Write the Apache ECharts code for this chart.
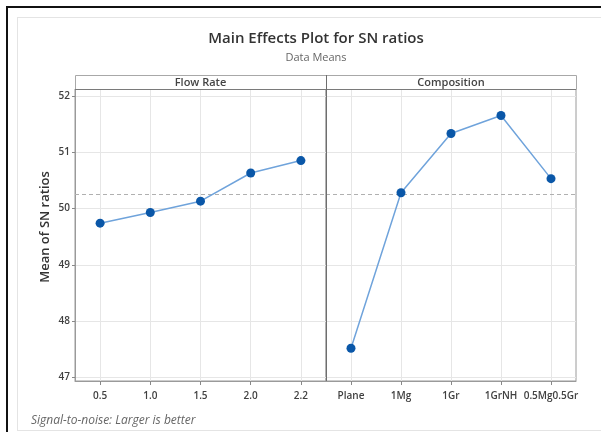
<!DOCTYPE html>
<html>
<head>
<meta charset="utf-8">
<script src="https://cdn.jsdelivr.net/npm/echarts@6/dist/echarts.min.js"></script>
<style>
  html, body { margin: 0; padding: 0; background: #fff; }
  #chart { width: 601px; height: 432px; }
</style>
</head>
<body>
<div id="chart"></div>
<script>
// Main effects of each factor on the mean SN ratio
const flowRates = ['0.5', '1.0', '1.5', '2.0', '2.2'];
const flowMeans = [49.74, 49.93, 50.13, 50.63, 50.85];
const compositions = ['Plane', '1Mg', '1Gr', '1GrNH', '0.5Mg0.5Gr'];
const compMeans = [47.52, 50.28, 51.33, 51.65, 50.53];
const grandMean = 50.26;
const yTicks = [47, 48, 49, 50, 51, 52];
const panelTitles = ['Flow Rate', 'Composition'];

const FONT = '"Open Sans", "Noto Sans", sans-serif';
const gridColor = '#e6e6e6';
const frameColor = '#9a9a9a';
const lineColor = '#6fa3db';
const dotColor = '#0a57a8';

const yMin = 46.94, yMax = 52.12;
const plotTop = 89, plotBottom = 51;
const leftX = 75, midX = 326, rightX = 576;

function xAxisFor(idx, cats) {
  return {
    type: 'category', gridIndex: idx, data: cats, boundaryGap: true,
    axisLine: { show: true, lineStyle: { color: frameColor, width: 1 } },
    axisTick: { show: true, alignWithLabel: true, length: 4, lineStyle: { color: '#888' } },
    axisLabel: {
      interval: 0, hideOverlap: false, color: '#404040',
      fontFamily: FONT, fontSize: 10, fontWeight: 600, margin: 10
    },
    splitLine: { show: true, alignWithLabel: true, lineStyle: { color: gridColor, width: 1 } }
  };
}

function yAxisFor(idx, showLabels) {
  return {
    type: 'value', gridIndex: idx, min: yMin, max: yMax,
    axisLine: { show: showLabels, lineStyle: { color: frameColor } },
    axisTick: { show: showLabels, length: 3, customValues: yTicks, lineStyle: { color: '#888' } },
    axisLabel: {
      show: showLabels, customValues: yTicks, color: '#404040',
      fontFamily: FONT, fontSize: 10, fontWeight: 600, margin: 5
    },
    splitLine: { show: true, lineStyle: { color: gridColor, width: 1 } }
  };
}

function seriesFor(idx, values) {
  return {
    type: 'line', xAxisIndex: idx, yAxisIndex: idx, data: values,
    symbol: 'circle', symbolSize: 9, silent: true,
    lineStyle: { color: lineColor, width: 1.5 },
    itemStyle: { color: dotColor },
    markLine: {
      silent: true, symbol: 'none', label: { show: false },
      lineStyle: { color: '#b0b0b0', type: [4, 3], width: 1 },
      data: [{ yAxis: grandMean }]
    },
    z: 5
  };
}

const stripTop = 75, stripBottom = 89;

const chart = echarts.init(document.getElementById('chart'), null, { renderer: 'canvas' });
chart.setOption({
  backgroundColor: '#fff',
  animation: false,
  title: [
    {
      text: 'Main Effects Plot for SN ratios', left: 311, top: 26, textAlign: 'center',
      textStyle: { fontFamily: FONT, fontSize: 15, fontWeight: 600, color: '#333' }
    },
    {
      text: 'Data Means', left: 311, top: 47, textAlign: 'center',
      textStyle: { fontFamily: FONT, fontSize: 11, fontWeight: 400, color: '#666' }
    }
  ],
  grid: [
    { left: leftX, right: 601 - midX, top: plotTop, bottom: plotBottom, show: true, borderColor: frameColor, borderWidth: 1 },
    { left: midX, right: 601 - rightX, top: plotTop, bottom: plotBottom, show: true, borderColor: frameColor, borderWidth: 1 }
  ],
  xAxis: [xAxisFor(0, flowRates), xAxisFor(1, compositions)],
  yAxis: [yAxisFor(0, true), yAxisFor(1, false)],
  series: [seriesFor(0, flowMeans), seriesFor(1, compMeans)],
  graphic: [
    // outer page frame
    { type: 'line', shape: { x1: 7, y1: 7, x2: 601, y2: 7 }, style: { stroke: '#111', lineWidth: 2 }, z: 100 },
    { type: 'line', shape: { x1: 7, y1: 6, x2: 7, y2: 432 }, style: { stroke: '#111', lineWidth: 2 }, z: 100 },
    { type: 'line', shape: { x1: 17, y1: 17.5, x2: 601, y2: 17.5 }, style: { stroke: '#e4e4e4', lineWidth: 1 }, z: 100 },
    { type: 'line', shape: { x1: 17.5, y1: 17, x2: 17.5, y2: 430 }, style: { stroke: '#e4e4e4', lineWidth: 1 }, z: 100 },
    { type: 'line', shape: { x1: 17, y1: 430.5, x2: 601, y2: 430.5 }, style: { stroke: '#e4e4e4', lineWidth: 1 }, z: 100 },
    // panel strip headers
    { type: 'rect', shape: { x: leftX + 0.5, y: stripTop + 0.5, width: midX - leftX, height: stripBottom - stripTop },
      style: { fill: '#fff', stroke: '#a8a8a8', lineWidth: 1 }, z: 100 },
    { type: 'rect', shape: { x: midX + 0.5, y: stripTop + 0.5, width: rightX - midX, height: stripBottom - stripTop },
      style: { fill: '#fff', stroke: '#a8a8a8', lineWidth: 1 }, z: 100 },
    { type: 'line', shape: { x1: leftX, y1: stripBottom + 0.5, x2: rightX, y2: stripBottom + 0.5 },
      style: { stroke: '#7a7a7a', lineWidth: 1 }, z: 101 },
    { type: 'text', x: (leftX + midX) / 2, y: (stripTop + stripBottom) / 2 + 1, z: 102,
      style: { text: panelTitles[0], fontFamily: FONT, fontSize: 11, fontWeight: 600, fill: '#444', align: 'center', verticalAlign: 'middle' } },
    { type: 'text', x: (midX + rightX) / 2, y: (stripTop + stripBottom) / 2 + 1, z: 102,
      style: { text: panelTitles[1], fontFamily: FONT, fontSize: 11, fontWeight: 600, fill: '#444', align: 'center', verticalAlign: 'middle' } },
    // panel divider
    { type: 'line', shape: { x1: midX + 0.5, y1: stripTop, x2: midX + 0.5, y2: 432 - plotBottom },
      style: { stroke: '#6e6e6e', lineWidth: 1 }, z: 101 },
    // y-axis title
    { type: 'text', x: 45, y: 227, rotation: Math.PI / 2, z: 102,
      style: { text: 'Mean of SN ratios', fontFamily: FONT, fontSize: 13, fontWeight: 600, fill: '#333', align: 'center', verticalAlign: 'middle' } },
    // footnote
    { type: 'text', x: 31, y: 421, z: 102,
      style: { text: 'Signal-to-noise: Larger is better', fontFamily: FONT, fontSize: 12, fontStyle: 'italic', fill: '#666', verticalAlign: 'middle' } }
  ]
});
</script>
</body>
</html>
